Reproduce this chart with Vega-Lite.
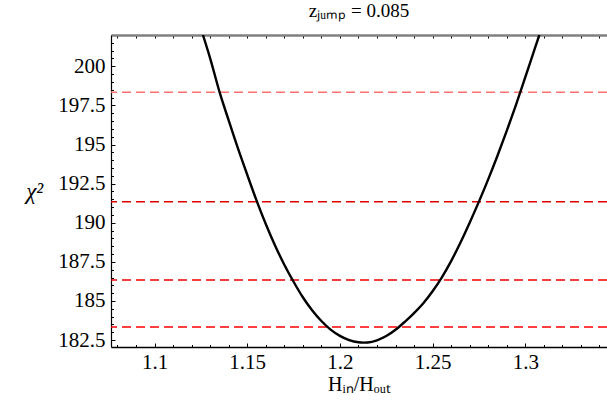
{
  "$schema": "https://vega.github.io/schema/vega-lite/v6.json",
  "width": 496,
  "height": 312,
  "autosize": "none",
  "padding": {"left": 111, "top": 35, "right": 0, "bottom": 53},
  "background": "white",
  "config": {
    "view": {"stroke": null},
    "font": "serif",
    "axis": {
      "grid": false,
      "labelFont": "Times New Roman, Liberation Serif, serif",
      "titleFont": "Times New Roman, Liberation Serif, serif",
      "labelFontSize": 21,
      "titleFontSize": 20,
      "titleFontWeight": "normal",
      "labelColor": "black",
      "titleColor": "black",
      "domainColor": "black",
      "tickColor": "black"
    }
  },
  "title": {
    "text": "zⱼᵤₘₚ = 0.085",
    "font": "Times New Roman, Liberation Serif, serif",
    "fontSize": 19,
    "fontWeight": "normal",
    "color": "black",
    "anchor": "middle",
    "offset": 14
  },
  "datasets": {
    "curve": [
      {"h": 1.1261, "chi2": 202.0},
      {"h": 1.130, "chi2": 200.51},
      {"h": 1.135, "chi2": 198.38},
      {"h": 1.140, "chi2": 196.54},
      {"h": 1.145, "chi2": 194.75},
      {"h": 1.150, "chi2": 193.07},
      {"h": 1.155, "chi2": 191.43},
      {"h": 1.160, "chi2": 189.92},
      {"h": 1.165, "chi2": 188.55},
      {"h": 1.170, "chi2": 187.32},
      {"h": 1.175, "chi2": 186.23},
      {"h": 1.180, "chi2": 185.24},
      {"h": 1.185, "chi2": 184.41},
      {"h": 1.190, "chi2": 183.72},
      {"h": 1.195, "chi2": 183.17},
      {"h": 1.200, "chi2": 182.77},
      {"h": 1.205, "chi2": 182.50},
      {"h": 1.210, "chi2": 182.36},
      {"h": 1.2128, "chi2": 182.34},
      {"h": 1.215, "chi2": 182.35},
      {"h": 1.220, "chi2": 182.49},
      {"h": 1.225, "chi2": 182.76},
      {"h": 1.230, "chi2": 183.16},
      {"h": 1.235, "chi2": 183.67},
      {"h": 1.240, "chi2": 184.23},
      {"h": 1.245, "chi2": 184.86},
      {"h": 1.250, "chi2": 185.62},
      {"h": 1.255, "chi2": 186.51},
      {"h": 1.260, "chi2": 187.55},
      {"h": 1.265, "chi2": 188.72},
      {"h": 1.270, "chi2": 190.00},
      {"h": 1.275, "chi2": 191.35},
      {"h": 1.280, "chi2": 192.77},
      {"h": 1.285, "chi2": 194.28},
      {"h": 1.290, "chi2": 195.87},
      {"h": 1.295, "chi2": 197.54},
      {"h": 1.300, "chi2": 199.30},
      {"h": 1.305, "chi2": 201.08},
      {"h": 1.3076, "chi2": 202.0}
    ],
    "levels": [
      {"sigma": "1", "chi2": 183.34},
      {"sigma": "2", "chi2": 186.34},
      {"sigma": "3", "chi2": 191.34},
      {"sigma": "4", "chi2": 198.34}
    ]
  },
  "resolve": {"axis": {"x": "independent", "y": "independent"}},
  "layer": [
    {
      "data": {"name": "levels"},
      "mark": {"type": "rule", "strokeDash": [9, 5]},
      "encoding": {
        "y": {"field": "chi2", "type": "quantitative", "scale": {"domain": [182.06, 202], "nice": false, "zero": false}, "axis": null},
        "color": {"field": "sigma", "type": "nominal", "scale": {"domain": ["1", "2", "3", "4"], "range": ["#ff0000", "#f00000", "#e00000", "#ff7070"]}, "legend": null},
        "strokeWidth": {"field": "sigma", "type": "nominal", "scale": {"domain": ["1", "2", "3", "4"], "range": [1.4, 1.4, 1.4, 2]}, "legend": null}
      }
    },
    {
      "data": {"name": "curve"},
      "mark": {"type": "line", "color": "black", "strokeWidth": 2.4, "clip": true, "interpolate": "monotone"},
      "encoding": {
        "x": {"field": "h", "type": "quantitative", "scale": {"domain": [1.0765, 1.3441], "nice": false, "zero": false},
          "axis": {"orient": "bottom", "values": [1.1, 1.15, 1.2, 1.25, 1.3], "format": ".3~r", "tickSize": -4, "labelPadding": 8, "title": "Hᵢₙ/Hₒᵤₜ", "titlePadding": 2, "domainWidth": 1.5}},
        "y": {"field": "chi2", "type": "quantitative", "scale": {"domain": [182.06, 202], "nice": false, "zero": false},
          "axis": {"orient": "left", "values": [182.5, 185, 187.5, 190, 192.5, 195, 197.5, 200], "format": ".4~r", "tickSize": -4, "labelPadding": 10, "title": "χ²", "titleAngle": 0, "titleAlign": "right", "titleBaseline": "middle", "titlePadding": 15, "titleFontSize": 23, "titleFontStyle": "italic", "domainWidth": 1.2}}
      }
    },
    {
      "data": {"name": "curve"},
      "mark": {"type": "line", "strokeOpacity": 0},
      "encoding": {
        "x": {"field": "h", "type": "quantitative", "scale": {"domain": [1.0765, 1.3441], "nice": false, "zero": false},
          "axis": {"orient": "bottom", "values": [1.08, 1.09, 1.11, 1.12, 1.13, 1.14, 1.16, 1.17, 1.18, 1.19, 1.21, 1.22, 1.23, 1.24, 1.26, 1.27, 1.28, 1.29, 1.31, 1.32, 1.33, 1.34], "labels": false, "tickSize": -2.5, "domain": false, "title": null}},
        "y": {"field": "chi2", "type": "quantitative", "scale": {"domain": [182.06, 202], "nice": false, "zero": false},
          "axis": {"orient": "left", "values": [182.5, 183, 183.5, 184, 184.5, 185.5, 186, 186.5, 187, 188, 188.5, 189, 189.5, 190.5, 191, 191.5, 192, 193, 193.5, 194, 194.5, 195.5, 196, 196.5, 197, 198, 198.5, 199, 199.5, 200.5, 201, 201.5], "labels": false, "tickSize": -2.5, "domain": false, "title": null}}
      }
    },
    {
      "data": {"name": "curve"},
      "mark": {"type": "line", "strokeOpacity": 0},
      "encoding": {
        "x": {"field": "h", "type": "quantitative", "scale": {"domain": [1.0765, 1.3441], "nice": false, "zero": false},
          "axis": {"orient": "top", "values": [1.08, 1.09, 1.1, 1.11, 1.12, 1.13, 1.14, 1.15, 1.16, 1.17, 1.18, 1.19, 1.2, 1.21, 1.22, 1.23, 1.24, 1.25, 1.26, 1.27, 1.28, 1.29, 1.3, 1.31, 1.32, 1.33, 1.34], "labels": false, "tickSize": -3, "domainColor": "#808080", "domainWidth": 2.5, "title": null}},
        "y": {"field": "chi2", "type": "quantitative", "scale": {"domain": [182.06, 202], "nice": false, "zero": false}, "axis": null}
      }
    }
  ]
}
